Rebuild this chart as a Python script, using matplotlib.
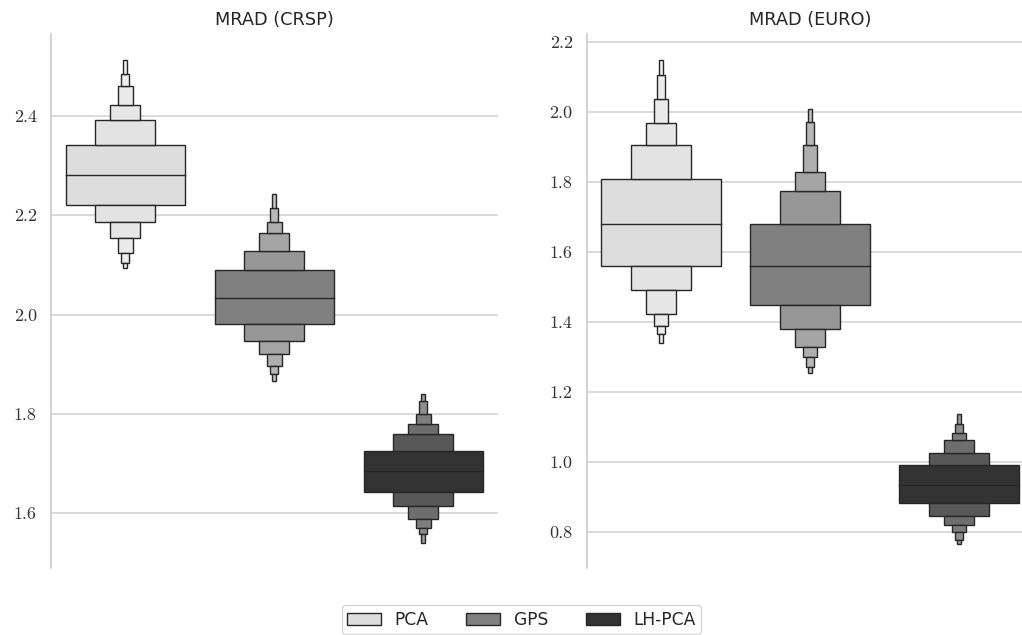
import numpy as np
import matplotlib
matplotlib.use('Agg')
import matplotlib.pyplot as plt
from matplotlib.patches import Patch

# letter values: box edge first, then outward
methods = ['PCA', 'GPS', 'LH-PCA']
panels = ['MRAD (CRSP)', 'MRAD (EURO)']

crsp_pca_lo = [2.221, 2.187, 2.155, 2.124, 2.103, 2.093]
crsp_pca_hi = [2.342, 2.391, 2.422, 2.461, 2.485, 2.513]
crsp_gps_lo = [1.981, 1.946, 1.921, 1.896, 1.881, 1.866]
crsp_gps_hi = [2.089, 2.128, 2.164, 2.186, 2.214, 2.242]
crsp_lh_lo = [1.643, 1.614, 1.589, 1.570, 1.558, 1.539]
crsp_lh_hi = [1.726, 1.760, 1.780, 1.800, 1.825, 1.840]
crsp_med = [2.281, 2.034, 1.684]

euro_pca_lo = [1.559, 1.491, 1.423, 1.388, 1.364, 1.339]
euro_pca_hi = [1.809, 1.906, 1.969, 2.038, 2.105, 2.149]
euro_gps_lo = [1.447, 1.380, 1.328, 1.299, 1.272, 1.253]
euro_gps_hi = [1.681, 1.774, 1.828, 1.906, 1.971, 2.007]
euro_lh_lo = [0.882, 0.844, 0.819, 0.799, 0.777, 0.766]
euro_lh_hi = [0.991, 1.025, 1.061, 1.083, 1.107, 1.137]
euro_med = [1.681, 1.559, 0.933]

crsp_ticks = [1.6, 1.8, 2.0, 2.2, 2.4]
euro_ticks = [0.8, 1.0, 1.2, 1.4, 1.6, 1.8, 2.0, 2.2]

# style
main_colors = ['#dddddd', '#808080', '#333333']
edge = '#262626'
lighten = [0, 0.18, 0.29, 0.37, 0.44, 0.5]


def level_color(c, f):
    rgb = np.array(matplotlib.colors.to_rgb(c))
    return tuple(rgb + (1 - rgb) * f)


def draw_boxen(ax, x, lo, hi, med, color):
    w = 0.8
    # central box
    ax.bar(x, hi[0] - lo[0], w, bottom=lo[0], color=color,
           edgecolor=edge, linewidth=1, zorder=3)
    for j in range(1, len(lo)):
        wj = w * 0.5 ** j
        cj = level_color(color, lighten[j])
        ax.bar(x, hi[j] - hi[j - 1], wj, bottom=hi[j - 1], color=cj,
               edgecolor=edge, linewidth=1, zorder=3)
        ax.bar(x, lo[j - 1] - lo[j], wj, bottom=lo[j], color=cj,
               edgecolor=edge, linewidth=1, zorder=3)
    ax.plot([x - w / 2, x + w / 2], [med, med], color=edge, lw=1, zorder=4)


fig = plt.figure(figsize=(10.22, 6.35), dpi=100)
ax1 = fig.add_axes([0.0496, 0.105, 0.4374, 0.841])
ax2 = fig.add_axes([0.5739, 0.105, 0.4374, 0.841])

crsp = [(crsp_pca_lo, crsp_pca_hi), (crsp_gps_lo, crsp_gps_hi), (crsp_lh_lo, crsp_lh_hi)]
euro = [(euro_pca_lo, euro_pca_hi), (euro_gps_lo, euro_gps_hi), (euro_lh_lo, euro_lh_hi)]

for ax, data, meds, ticks, ylim, title in [
        (ax1, crsp, crsp_med, crsp_ticks, (1.489, 2.5645), panels[0]),
        (ax2, euro, euro_med, euro_ticks, (0.6953, 2.222), panels[1])]:
    for i, (lo, hi) in enumerate(data):
        draw_boxen(ax, i, lo, hi, meds[i], main_colors[i])
    ax.set_xlim(-0.5, 2.5)
    ax.set_ylim(*ylim)
    ax.set_yticks(ticks)
    ax.set_yticklabels(['%.1f' % t for t in ticks], fontfamily='cmr10',
                       fontsize=13, color='#333333')
    ax.set_xticks([])
    ax.tick_params(axis='y', length=0, pad=10)
    ax.grid(axis='y', color='#d5d5d5', linewidth=1.2, zorder=0)
    ax.set_axisbelow(True)
    for s in ['top', 'right', 'bottom']:
        ax.spines[s].set_visible(False)
    ax.spines['left'].set_color('#cccccc')
    ax.spines['left'].set_linewidth(1.25)
    ax.set_title(title, fontsize=12.8, color='#262626', pad=6.5)

handles = [Patch(facecolor=c, edgecolor=edge, linewidth=1, label=m)
           for c, m in zip(main_colors, methods)]
leg = fig.legend(handles=handles, loc='lower center', ncol=3,
                 bbox_to_anchor=(0.5103, 0.002), borderaxespad=0,
                 fontsize=12.3, frameon=True, edgecolor='#cccccc',
                 borderpad=0.3, columnspacing=2.2)
for t in leg.get_texts():
    t.set_color('#262626')

fig.savefig('out.png', dpi=100)
